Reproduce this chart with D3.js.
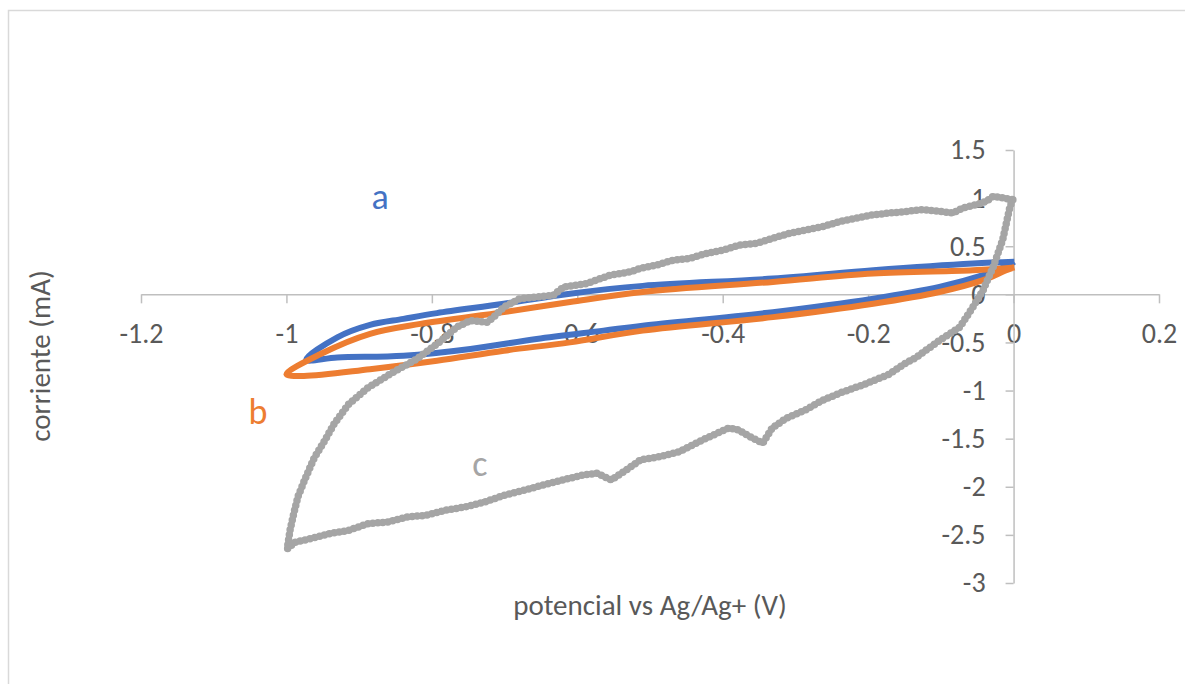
<!DOCTYPE html>
<html>
<head>
<meta charset="utf-8">
<script src="https://cdn.jsdelivr.net/npm/d3@7"></script>
<style>
  body { margin: 0; background: #fff; }
  svg { display: block; font-family: Carlito, Lato, "Open Sans", sans-serif; }
</style>
</head>
<body>
<div id="chart"></div>
<script>
// tick values and labels
const xTicks = [-1.2, -1, -0.8, -0.6, -0.4, -0.2, 0, 0.2];
const xTickLabels = ['-1.2', '-1', '-0.8', '-0.6', '-0.4', '-0.2', '0', '0.2'];
const yTicks = [1.5, 1, 0.5, 0, -0.5, -1, -1.5, -2, -2.5, -3];
const yTickLabels = ['1.5', '1', '0.5', '0', '-0.5', '-1', '-1.5', '-2', '-2.5', '-3'];

// series a (blue)
const aV = [0.001, -0.056, -0.193, -0.331, -0.51, -0.61, -0.701, -0.793, -0.839, -0.885, -0.93, -0.973,
  -0.93, -0.839, -0.747, -0.656, -0.564, -0.51, -0.331, -0.193, -0.102, -0.042, -0.01, 0.001];
const aI = [0.338, 0.321, 0.251, 0.164, 0.088, 0.007, -0.098, -0.195, -0.255, -0.318, -0.447, -0.68,
  -0.656, -0.639, -0.569, -0.464, -0.377, -0.325, -0.185, -0.045, 0.077, 0.199, 0.29, 0.338];

// series b (orange)
const bV = [0.001, -0.056, -0.193, -0.331, -0.51, -0.61, -0.701, -0.816, -0.885, -0.953, -1.0,
  -0.976, -0.885, -0.793, -0.701, -0.61, -0.51, -0.331, -0.193, -0.102, -0.042, -0.01, 0.001];
const bI = [0.28, 0.251, 0.216, 0.129, 0.024, -0.08, -0.185, -0.307, -0.41, -0.62, -0.83,
  -0.848, -0.778, -0.69, -0.586, -0.499, -0.377, -0.237, -0.098, 0.024, 0.147, 0.251, 0.28];

// series c (gray)
const cV = [-0.001, -0.005, -0.015, -0.028, -0.042, -0.056, -0.074, -0.102, -0.134, -0.151, -0.171,
  -0.205, -0.238, -0.265, -0.285, -0.312, -0.332, -0.345, -0.359, -0.379, -0.392, -0.412, -0.432,
  -0.459, -0.486, -0.513, -0.526, -0.553, -0.573, -0.593, -0.62, -0.647, -0.673, -0.7, -0.727,
  -0.754, -0.781, -0.808, -0.834, -0.861, -0.888, -0.915, -0.942, -0.968, -0.988, -0.999,
  -0.995, -0.99, -0.984, -0.975, -0.962, -0.948, -0.935, -0.915, -0.888, -0.854, -0.821, -0.79,
  -0.766, -0.747, -0.724, -0.715, -0.701, -0.679, -0.633, -0.619, -0.587, -0.555, -0.527,
  -0.514, -0.491, -0.468, -0.445, -0.422, -0.399, -0.376, -0.353, -0.331, -0.308, -0.285,
  -0.262, -0.239, -0.216, -0.193, -0.17, -0.147, -0.125, -0.102, -0.083, -0.07, -0.051,
  -0.0375, -0.028, -0.015, -0.001];
const cI = [0.984, 0.91, 0.565, 0.286, 0.042, -0.133, -0.342, -0.48, -0.656, -0.726, -0.83,
  -0.935, -1.023, -1.11, -1.197, -1.285, -1.39, -1.547, -1.494, -1.407, -1.39, -1.459, -1.529,
  -1.634, -1.686, -1.72, -1.79, -1.93, -1.86, -1.878, -1.93, -1.982, -2.035, -2.087, -2.157,
  -2.209, -2.244, -2.297, -2.314, -2.366, -2.384, -2.454, -2.489, -2.541, -2.576, -2.646,
  -2.45, -2.28, -2.1, -1.93, -1.703, -1.529, -1.354, -1.145, -0.971, -0.813, -0.674, -0.5,
  -0.342, -0.272, -0.29, -0.237, -0.133, -0.045, -0.01, 0.076, 0.112, 0.199, 0.234,
  0.269, 0.304, 0.356, 0.374, 0.426, 0.461, 0.513, 0.531, 0.583, 0.635, 0.67,
  0.705, 0.757, 0.792, 0.827, 0.845, 0.862, 0.88, 0.862, 0.845, 0.897, 0.932,
  0.967, 1.019, 1.002, 0.984];

const seriesNames = ['a', 'b', 'c'];
const seriesColors = ['#4472C4', '#ED7D31', '#A5A5A5'];

const w = 1185;
const h = 684;

const svg = d3.select('#chart')
  .append('svg')
  .attr('width', w)
  .attr('height', h)

// chart area border
svg.append('rect')
  .attr('x', 8.5)
  .attr('y', 10.5)
  .attr('width', 1400)
  .attr('height', 1000)
  .attr('fill', 'none')
  .attr('stroke', '#d9d9d9')
  .attr('stroke-width', 1.5)

const xScale = d3.scaleLinear()
  .domain([-1.2, 0.2])
  .range([141, 1159])

const yScale = d3.scaleLinear()
  .domain([-3, 1.5])
  .range([583, 150])

const xAxis = d3.axisBottom(xScale)
  .tickValues(xTicks)
  .tickFormat((d, i) => xTickLabels[i])
  .tickSize(9)
  .tickSizeOuter(0)
  .tickPadding(20)

const yAxis = d3.axisLeft(yScale)
  .tickValues(yTicks)
  .tickFormat((d, i) => yTickLabels[i])
  .tickSize(8)
  .tickSizeOuter(0)
  .tickPadding(20)

const gx = svg.append('g')
  .attr('transform', 'translate(0,' + yScale(0) + ')')
  .call(xAxis)

const gy = svg.append('g')
  .attr('transform', 'translate(' + xScale(0) + ',0)')
  .call(yAxis)

for (const g of [gx, gy]) {
  g.attr('font-size', 28).attr('font-family', 'Carlito, Lato, "Open Sans", sans-serif')
  g.selectAll('path, line').attr('stroke', '#bfbfbf').attr('stroke-width', 1.5)
  g.selectAll('text').attr('fill', '#595959')
}

// axis titles
svg.append('text')
  .attr('x', 650)
  .attr('y', 615)
  .attr('text-anchor', 'middle')
  .attr('font-size', 29)
  .attr('fill', '#595959')
  .text('potencial vs Ag/Ag+ (V)')

svg.append('text')
  .attr('transform', 'translate(50,356) rotate(-90)')
  .attr('text-anchor', 'middle')
  .attr('font-size', 29)
  .attr('fill', '#595959')
  .text('corriente (mA)')

const line = d3.line()
  .x(d => xScale(d[0]))
  .y(d => yScale(d[1]))

const smooth = d3.line()
  .x(d => xScale(d[0]))
  .y(d => yScale(d[1]))
  .curve(d3.curveCatmullRom.alpha(0.5))

const seriesData = [
  d3.zip(aV, aI),
  d3.zip(bV, bI),
  d3.zip(cV, cI)
]

svg.append('path')
  .datum(seriesData[0])
  .attr('d', smooth)
  .attr('fill', 'none')
  .attr('stroke', seriesColors[0])
  .attr('stroke-width', 6)
  .attr('stroke-linejoin', 'round')

svg.append('path')
  .datum(seriesData[1])
  .attr('d', smooth)
  .attr('fill', 'none')
  .attr('stroke', seriesColors[1])
  .attr('stroke-width', 6)
  .attr('stroke-linejoin', 'round')

// gray series: a line plus dense round markers for the beaded look
svg.append('path')
  .datum(seriesData[2])
  .attr('d', line)
  .attr('fill', 'none')
  .attr('stroke', seriesColors[2])
  .attr('stroke-width', 5.5)
  .attr('stroke-linejoin', 'round')
  .attr('stroke-linecap', 'round')

svg.append('path')
  .datum(seriesData[2])
  .attr('d', line)
  .attr('fill', 'none')
  .attr('stroke', seriesColors[2])
  .attr('stroke-width', 7.5)
  .attr('stroke-linecap', 'round')
  .attr('stroke-dasharray', '0,5')

// series labels (baseline positions)
const labelPos = [[-0.871, 0.887], [-1.039, -1.348], [-0.734, -1.889]];
svg.selectAll('.serie-label')
  .data(seriesNames)
  .enter()
  .append('text')
  .attr('class', 'serie-label')
  .attr('x', (d, i) => xScale(labelPos[i][0]))
  .attr('y', (d, i) => yScale(labelPos[i][1]))
  .attr('text-anchor', 'middle')
  .attr('font-size', 36)
  .attr('fill', (d, i) => seriesColors[i])
  .text(d => d)
</script>
</body>
</html>
